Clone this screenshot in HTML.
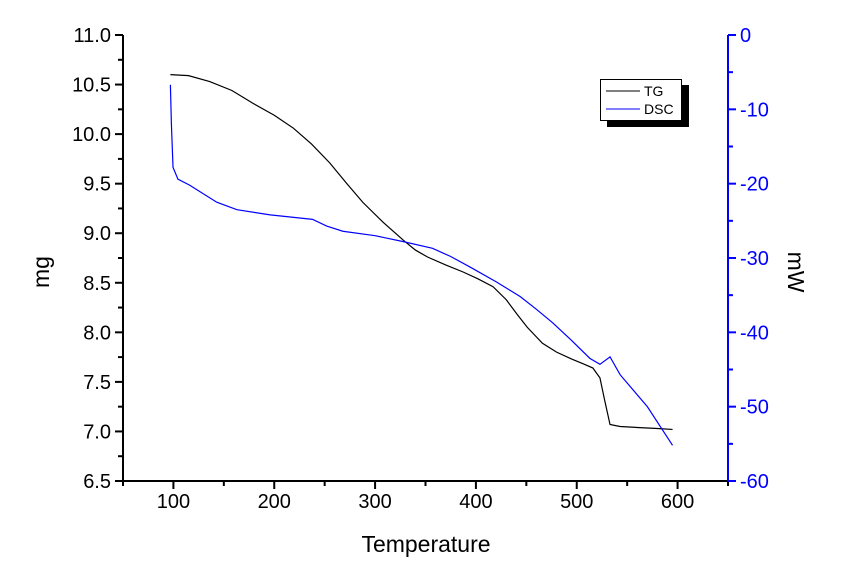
<!DOCTYPE html>
<html><head><meta charset="utf-8"><style>
body{margin:0;background:#fff}
svg{display:block;font-family:"Liberation Sans",Arial,sans-serif}
</style></head><body>
<svg id="chart" width="850" height="572"></svg>
<script>
const tgTemps=[97,115,136,158,179,200,219,237,255,272,288,308,328,340,352,370,387,402,417,430,441,451,466,480,495,507,516,523,528,533,543,560,580,595];
const tgValues=[10.6,10.59,10.53,10.44,10.31,10.19,10.06,9.9,9.71,9.5,9.31,9.11,8.93,8.83,8.76,8.68,8.61,8.54,8.46,8.33,8.18,8.05,7.89,7.8,7.73,7.68,7.64,7.54,7.3,7.07,7.05,7.04,7.03,7.02];
const dscTemps=[97,98,99.6,104.5,116,143,163,196,238,252,268,300,328,357,375,394,420,444,460,476,495,513,523,533,543,570,595];
const dscValues=[-6.7,-12,-17.8,-19.4,-20.2,-22.5,-23.5,-24.2,-24.8,-25.7,-26.4,-27,-27.8,-28.7,-29.8,-31.2,-33.2,-35.2,-36.9,-38.7,-41.1,-43.5,-44.3,-43.3,-45.7,-50,-55.2];
const xTicks=[100,200,300,400,500,600];
const yLeftTicks=[6.5,7.0,7.5,8.0,8.5,9.0,9.5,10.0,10.5,11.0];
const yRightTicks=[0,-10,-20,-30,-40,-50,-60];
const L=123,R=728,T=35,B=481;
const xs=v=>L+(v-50)/600*(R-L);
const yl=v=>B-(v-6.5)/4.5*(B-T);
const yr=v=>T+(-v)/60*(B-T);
const svg=document.getElementById('chart');
const NS='http://www.w3.org/2000/svg';
function mk(tag,attrs,parent){const e=document.createElementNS(NS,tag);for(const k in attrs)e.setAttribute(k,attrs[k]);(parent||svg).appendChild(e);return e;}
let e=mk('line',{x1:L,y1:B,x2:R,y2:B,stroke:'#000','stroke-width':2});


e=mk('line',{x1:L,y1:T,x2:L,y2:B,stroke:'#000','stroke-width':2});


e=mk('line',{x1:R,y1:T,x2:R,y2:B,stroke:'#00f','stroke-width':2});


for(let v=50;v<=650;v+=50){const x=xs(v);const major=(v%100===0);mk('line',{x1:x,y1:B,x2:x,y2:B+(major?8:5),stroke:'#000','stroke-width':2});}
xTicks.forEach(v=>{const t=mk('text',{x:xs(v),y:B+27,'text-anchor':'middle','font-size':20});t.textContent=v;

});
for(let v=6.5;v<=11.001;v+=0.25){const y=yl(v);const major=Math.abs(v*2-Math.round(v*2))<1e-6;mk('line',{x1:L,y1:y,x2:L-(major?8:5),y2:y,stroke:'#000','stroke-width':2});}
yLeftTicks.forEach(v=>{const t=mk('text',{x:L-12,y:yl(v)+7,'text-anchor':'end','font-size':20});t.textContent=v.toFixed(1);

});
for(let v=0;v>=-60;v-=5){const y=yr(v);const major=(v%10===0);mk('line',{x1:R,y1:y,x2:R+(major?8:5),y2:y,stroke:'#00f','stroke-width':2});}
yRightTicks.forEach(v=>{const t=mk('text',{x:R+12,y:yr(v)+7,'text-anchor':'start','font-size':20,fill:'#00f'});t.textContent=v;

});
e=mk('text',{x:426,y:552,'text-anchor':'middle','font-size':23});e.textContent='Temperature';


e=mk('text',{x:49,y:272,'text-anchor':'middle','font-size':23,transform:'rotate(-90 49 272)'});e.textContent='mg';


e=mk('text',{x:788,y:272,'text-anchor':'middle','font-size':23,transform:'rotate(90 788 272)'});e.textContent='mW';


e=mk('polyline',{points:tgTemps.map((t,i)=>xs(t)+','+yl(tgValues[i])).join(' '),fill:'none',stroke:'#000','stroke-width':1.2});


e=mk('polyline',{points:dscTemps.map((t,i)=>xs(t)+','+yr(dscValues[i])).join(' '),fill:'none',stroke:'#00f','stroke-width':1.2});


const g=mk('g',{});


mk('rect',{x:607,y:85,width:82,height:42,fill:'#000'},g);
mk('rect',{x:600.5,y:79.5,width:81,height:41,fill:'#fff',stroke:'#000','stroke-width':1},g);
mk('line',{x1:606,y1:91,x2:640,y2:91,stroke:'#000','stroke-width':1},g);
e=mk('text',{x:644,y:96,'font-size':14},g);e.textContent='TG';


mk('line',{x1:606,y1:109,x2:640,y2:109,stroke:'#00f','stroke-width':1},g);
e=mk('text',{x:644,y:114,'font-size':14},g);e.textContent='DSC';


</script>
</body></html>
